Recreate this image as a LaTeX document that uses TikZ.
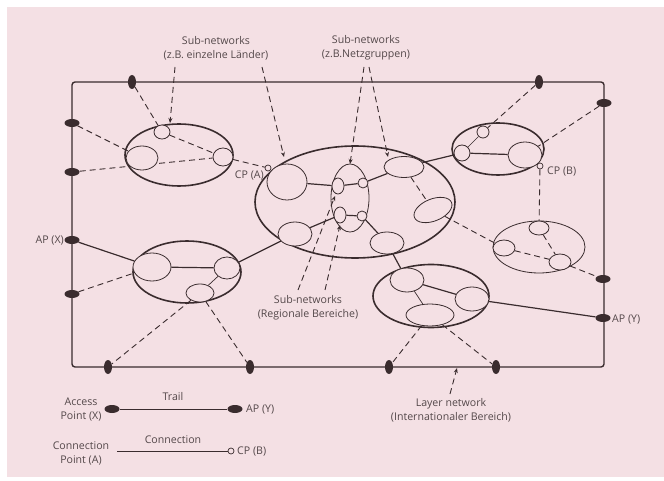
\documentclass[tikz,border=0pt]{standalone}
\usepackage{fontspec}
\setmainfont{Open Sans}
\usetikzlibrary{shapes.geometric,arrows.meta}
\definecolor{bgpink}{HTML}{F4E0E4}
\definecolor{ink}{HTML}{3A2C2E}
\definecolor{txt}{HTML}{54484A}
\pgfdeclarelayer{bglayer}
\pgfdeclarelayer{linelayer}
\pgfsetlayers{bglayer,linelayer,main}
\begin{document}
\begin{tikzpicture}[x=1pt,y=-1pt,
  net/.style={ellipse,draw=ink,line width=1.6pt,inner sep=0pt},
  thinnet/.style={ellipse,draw=ink,line width=0.8pt,inner sep=0pt},
  sub/.style={ellipse,draw=ink,line width=0.8pt,fill=bgpink,inner sep=0pt},
  apv/.style={ellipse,fill=ink,draw=none,minimum width=8pt,minimum height=14pt,inner sep=0pt},
  aph/.style={ellipse,fill=ink,draw=none,minimum width=15pt,minimum height=8pt,inner sep=0pt},
  cpt/.style={circle,draw=ink,line width=0.7pt,fill=bgpink,minimum size=6pt,inner sep=0pt},
  link/.style={draw=ink,line width=1.2pt},
  thinlink/.style={draw=ink,line width=0.7pt},
  dlink/.style={draw=ink,line width=0.9pt,dash pattern=on 6pt off 4pt},
  pointer/.style={dlink,-{Stealth[length=5pt,width=4pt]}},
  lbl/.style={text=txt,font=\fontsize{10.6}{14}\selectfont,align=center,inner sep=0pt},
]
\useasboundingbox (0,0) rectangle (664,481);
\begin{pgfonlayer}{bglayer}
  \fill[white] (0,0) rectangle (664,481);
  \fill[bgpink] (7,7) rectangle (664,477);
\end{pgfonlayer}

% layer network border
\draw[ink,line width=1.4pt,rounded corners=3pt] (72,82) rectangle (604,367);

% access points on the border
\node[apv] (apT1) at (132,82) {};
\node[apv] (apT2) at (539,82) {};
\node[aph] (apR1) at (604,103) {};
\node[aph] (apR2) at (603,279) {};
\node[aph] (apY)  at (603,318) {};
\node[aph] (apL1) at (72,123) {};
\node[aph] (apL2) at (72,172) {};
\node[aph] (apX)  at (72,240) {};
\node[aph] (apL3) at (72,294) {};
\node[apv] (apB1) at (108,367) {};
\node[apv] (apB2) at (250,367) {};
\node[apv] (apB3) at (389,367) {};
\node[apv] (apB4) at (496,367) {};

% E1 upper left
\node[net,minimum width=108pt,minimum height=62pt] (E1) at (179,155) {};
\node[sub,minimum width=16pt,minimum height=14pt] (e1s) at (162,132) {};
\node[sub,minimum width=32pt,minimum height=24pt] (e1L) at (142,158) {};
\node[sub,minimum width=20pt,minimum height=18pt] (e1R) at (223,157) {};

% E2 central
\node[net,minimum width=200pt,minimum height=112pt] (E2) at (355,202) {};
\node[sub,minimum width=40pt,minimum height=36pt] (e2LT) at (287,182) {};
\node[thinnet,minimum width=38pt,minimum height=68pt] (e2thin) at (350,198) {};
\node[sub,minimum width=12pt,minimum height=16pt] (e2s1) at (338,186) {};
\node[sub,minimum width=10pt,minimum height=10pt] (e2c1) at (363,183) {};
\node[sub,minimum width=12pt,minimum height=16pt] (e2s2) at (340,215) {};
\node[sub,minimum width=10pt,minimum height=10pt] (e2c2) at (362,216) {};
\node[sub,minimum width=40pt,minimum height=21pt] (e2TR) at (404,167) {};
\node[sub,minimum width=40pt,minimum height=22pt,rotate=22] (e2R) at (433,210) {};
\node[sub,minimum width=34pt,minimum height=24pt] (e2BL) at (295,234) {};
\node[sub,minimum width=34pt,minimum height=22pt] (e2BR) at (387,243) {};

% E3 upper right
\node[net,minimum width=92pt,minimum height=52pt] (E3) at (498,149) {};
\node[sub,minimum width=12pt,minimum height=12pt] (e3s) at (483,132) {};
\node[sub,minimum width=16pt,minimum height=16pt] (e3L) at (462,153) {};
\node[sub,minimum width=34pt,minimum height=26pt] (e3R) at (525,155) {};

% E6 right middle (thin)
\node[thinnet,minimum width=92pt,minimum height=52pt] (E6) at (539,247) {};
\node[sub,minimum width=20pt,minimum height=14pt] (e6T) at (539,228) {};
\node[sub,minimum width=22pt,minimum height=16pt] (e6L) at (504,248) {};
\node[sub,minimum width=22pt,minimum height=16pt] (e6R) at (560,262) {};

% E4 lower left
\node[net,minimum width=108pt,minimum height=62pt] (E4) at (187,272) {};
\node[sub,minimum width=38pt,minimum height=28pt] (e4L) at (152,267) {};
\node[sub,minimum width=26pt,minimum height=22pt] (e4R) at (227,268) {};
\node[sub,minimum width=28pt,minimum height=18pt] (e4B) at (200,293) {};

% E5 bottom
\node[net,minimum width=116pt,minimum height=63pt] (E5) at (431,296) {};
\node[sub,minimum width=34pt,minimum height=24pt] (e5TL) at (407,280) {};
\node[sub,minimum width=34pt,minimum height=24pt] (e5R) at (472,299) {};
\node[sub,minimum width=48pt,minimum height=22pt] (e5B) at (430,315) {};

% connection points
\node[cpt] (cpA) at (268,168) {};
\node[cpt] (cpB) at (540,166) {};

% labels
\node[lbl] (labAPX) [anchor=east] at (64,241) {AP (X)};
\node[lbl] (labAPY) [anchor=west] at (612,320) {AP (Y)};
\node[lbl] (labCPA) [anchor=east] at (264,176) {CP (A)};
\node[lbl] (labCPB) [anchor=west] at (547,172) {CP (B)};
\node[lbl] (lab1) at (216,48) {Sub-networks\\(z.B. einzelne Länder)};
\node[lbl] (lab2) at (366,48) {Sub-networks\\(z.B.Netzgruppen)};
\node[lbl] (lab3) at (308,308) {Sub-networks\\(Regionale Bereiche)};
\node[lbl] (lab4) at (451,410) {Layer network\\(Internationaler Bereich)};

% pointer anchors
\coordinate (p1a) at (175,67);  \coordinate (p1aE) at (170,123);
\coordinate (p1b) at (262,67);  \coordinate (p1bE) at (284,157);
\coordinate (p2a) at (364,67);  \coordinate (p2aE) at (350,164);
\coordinate (p2b) at (369,67);  \coordinate (p2bE) at (388,157);
\coordinate (p3a) at (298,290); \coordinate (p3aE) at (335,196);
\coordinate (p3b) at (325,290); \coordinate (p3bE) at (340,225);
\coordinate (p4a) at (450,394); \coordinate (p4aE) at (457,368);

% legend
\node[aph] (lgA1) at (112,409) {};
\node[aph] (lgA2) at (235,409) {};
\node[lbl] (lgAP) [anchor=west] at (246,410) {AP (Y)};
\node[lbl] (lgAX) at (81,410) {Access\\Point (X)};
\node[lbl] (lgTr) at (173,397) {Trail};
\coordinate (lgC1) at (117,451);
\node[cpt] (lgC2) at (231,451) {};
\node[lbl] (lgCP) [anchor=west] at (237,451) {CP (B)};
\node[lbl] (lgCA) at (81,453) {Connection\\Point (A)};
\node[lbl] (lgCo) at (173,440) {Connection};

\begin{pgfonlayer}{linelayer}
  % E1
  \draw[dlink] (apT1) -- (e1s);
  \draw[dlink] (e1s) -- (e1R);
  \draw[dlink] (apL1) -- (e1L);
  \draw[dlink] (apL2) -- (e1R);
  \draw[dlink] (e1R) -- (cpA);
  % E2
  \draw[link] (e2LT) -- (e2s1);
  \draw[link] (e2s1) -- (e2c1);
  \draw[link] (e2c1) -- (e2TR);
  \draw[link] (e2s2) -- (e2c2);
  \draw[link] (e2s2) -- (e2BL);
  \draw[link] (e2c2) -- (e2BR);
  \draw[dlink] (e2TR) -- (e2R);
  \draw[link] (e2TR) -- (e3L);
  \draw[link] (e2BL) -- (e4R);
  \draw[link] (e2BR) -- (e5TL);
  \draw[dlink] (e2R) -- (e6L);
  % E3
  \draw[link] (e3L) -- (e3R);
  \draw[thinlink] (e3s) -- (e3L);
  \draw[dlink] (apT2) -- (e3s);
  \draw[dlink] (apR1) -- (e3R);
  \draw[dlink] (cpB) -- (e6T);
  % E6
  \draw[dlink] (e6T) -- (e6R);
  \draw[dlink] (e6L) -- (e6R);
  \draw[dlink] (e6R) -- (apR2);
  % E4
  \draw[link] (e4L) -- (e4R);
  \draw[thinlink] (e4R) -- (e4B);
  \draw[link] (apX) -- (e4L);
  \draw[dlink] (apL3) -- (e4L);
  \draw[dlink] (e4B) -- (apB1);
  \draw[dlink] (e4B) -- (apB2);
  % E5
  \draw[link] (e5TL) -- (e5R);
  \draw[thinlink] (e5TL) -- (e5B);
  \draw[link] (e5R) -- (apY);
  \draw[dlink] (e5B) -- (apB3);
  \draw[dlink] (e5B) -- (apB4);
  % pointers
  \draw[pointer] (p1a) -- (p1aE);
  \draw[pointer] (p1b) -- (p1bE);
  \draw[pointer] (p2a) -- (p2aE);
  \draw[pointer] (p2b) -- (p2bE);
  \draw[pointer] (p3a) -- (p3aE);
  \draw[pointer] (p3b) -- (p3bE);
  \draw[pointer] (p4a) -- (p4aE);
  % legend lines
  \draw[thinlink] (lgA1) -- (lgA2);
  \draw[thinlink] (lgC1) -- (lgC2);
\end{pgfonlayer}
\end{tikzpicture}
\end{document}
